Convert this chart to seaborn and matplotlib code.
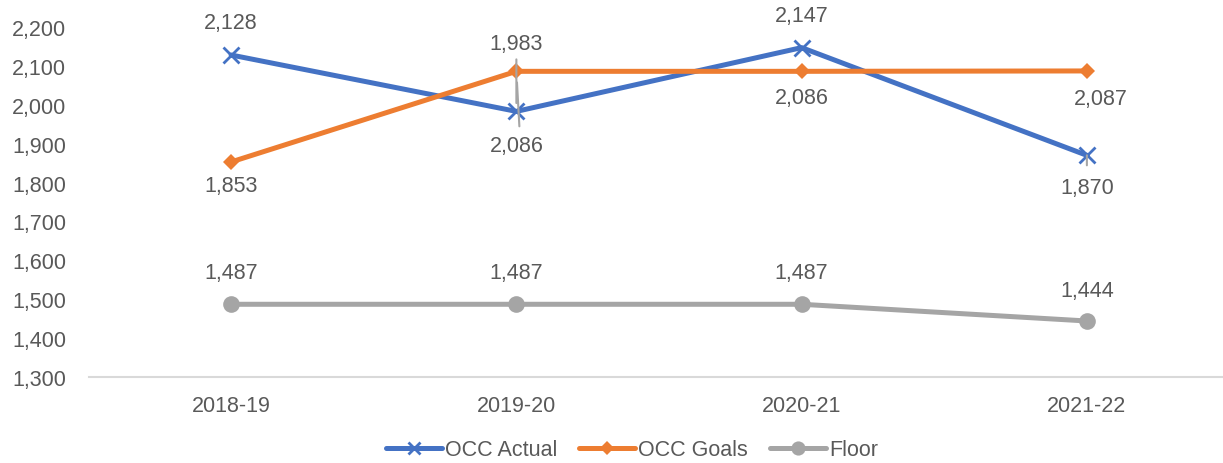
import matplotlib
matplotlib.use("Agg")
import matplotlib.pyplot as plt
import seaborn as sns
import pandas as pd
from matplotlib.ticker import FuncFormatter

categories = ["2018-19", "2019-20", "2020-21", "2021-22"]
occ_actual = [2128, 1983, 2147, 1870]
occ_goals = [1853, 2086, 2086, 2087]
floor = [1487, 1487, 1487, 1444]

sns.set_theme(style="white")
plt.rcParams['font.family'] = ['Liberation Sans', 'DejaVu Sans']
TXT = "#595959"

fig = plt.figure(figsize=(12.23, 4.64), dpi=100)
W, H = 1223, 464
ax = fig.add_axes([88.5 / W, (H - 378) / H, (1223 - 88.5) / W, 350 / H])

x = list(range(len(categories)))
df = pd.DataFrame({"x": x, "OCC Actual": occ_actual, "OCC Goals": occ_goals, "Floor": floor})

styles = {
    "OCC Actual": dict(color="#4472C4", marker="x", ms=11, mew=2),
    "OCC Goals": dict(color="#ED7D31", marker="D", ms=8, mew=0),
    "Floor": dict(color="#A5A5A5", marker="o", ms=12, mew=0),
}
for name, st in styles.items():
    sns.lineplot(data=df, x="x", y=name, ax=ax, color=st["color"], lw=3.6,
                 marker=st["marker"], markersize=st["ms"], markeredgewidth=st["mew"],
                 markeredgecolor=st["color"], label=name, clip_on=False)

ax.set_xlim(-0.5, 3.5 - (1229.5 - 1223) / 285)
ax.set_ylim(1300, 2200)
ax.set_yticks(range(1300, 2201, 100))
ax.yaxis.set_major_formatter(FuncFormatter(lambda v, p: f"{int(v):,}"))
ax.set_xticks(x)
ax.set_xticklabels(categories)
ax.set_xlabel("")
ax.set_ylabel("")
for s in ["top", "right", "left"]:
    ax.spines[s].set_visible(False)
ax.spines["bottom"].set_color("#D9D9D9")
ax.spines["bottom"].set_linewidth(1.5)
ax.tick_params(axis="both", length=0, labelsize=15.5, colors=TXT)
ax.tick_params(axis="y", pad=16)
ax.tick_params(axis="x", pad=13)

FS = 15.5

def lab(xi, yv, txt, dx, dy):
    ax.annotate(txt, xy=(xi, yv), xytext=(dx, dy), textcoords="offset pixels",
                ha="center", va="center", fontsize=FS, color=TXT, annotation_clip=False)

def leader(xi, yv, dx, dy, extend=0):
    ax.annotate("", xy=(xi, yv), xytext=(dx, dy), textcoords="offset pixels",
                arrowprops=dict(arrowstyle="-", color="#A5A5A5", lw=1.5, shrinkA=0, shrinkB=-extend),
                annotation_clip=False)

# OCC Actual labels
lab(0, occ_actual[0], f"{occ_actual[0]:,}", 0, 32)
lab(2, occ_actual[2], f"{occ_actual[2]:,}", 0, 32)
leader(3, occ_actual[3], 0, -10)
lab(3, occ_actual[3], f"{occ_actual[3]:,}", 0, -32)
# OCC Goals labels
lab(0, occ_goals[0], f"{occ_goals[0]:,}", 0, -24)
lab(2, occ_goals[2], f"{occ_goals[2]:,}", 0, -26)
lab(3, occ_goals[3], f"{occ_goals[3]:,}", 14, -28)
# swapped labels at 2019-20 with leader lines
leader(1, occ_actual[1], 0, 52, extend=6)
leader(1, occ_goals[1], 3, -55, extend=8)
ax.annotate(f"{occ_actual[1]:,}", xy=(1, occ_goals[1]), xytext=(0, 28), textcoords="offset pixels",
            ha="center", va="center", fontsize=FS, color=TXT, annotation_clip=False)
ax.annotate(f"{occ_goals[1]:,}", xy=(1, occ_actual[1]), xytext=(0, -34), textcoords="offset pixels",
            ha="center", va="center", fontsize=FS, color=TXT, annotation_clip=False)
# Floor labels
for i, v in enumerate(floor):
    lab(i, v, f"{v:,}", 0, 30 if i == 3 else 32)

leg = ax.legend(loc="center", bbox_to_anchor=((632 - 88.5) / 1134.5, (378 - 451) / 350),
                ncol=3, frameon=False, fontsize=FS, handlelength=2.6, handletextpad=0.15,
                columnspacing=1.0, labelcolor=TXT, markerscale=0.85)

fig.savefig("out.png", dpi=100)
